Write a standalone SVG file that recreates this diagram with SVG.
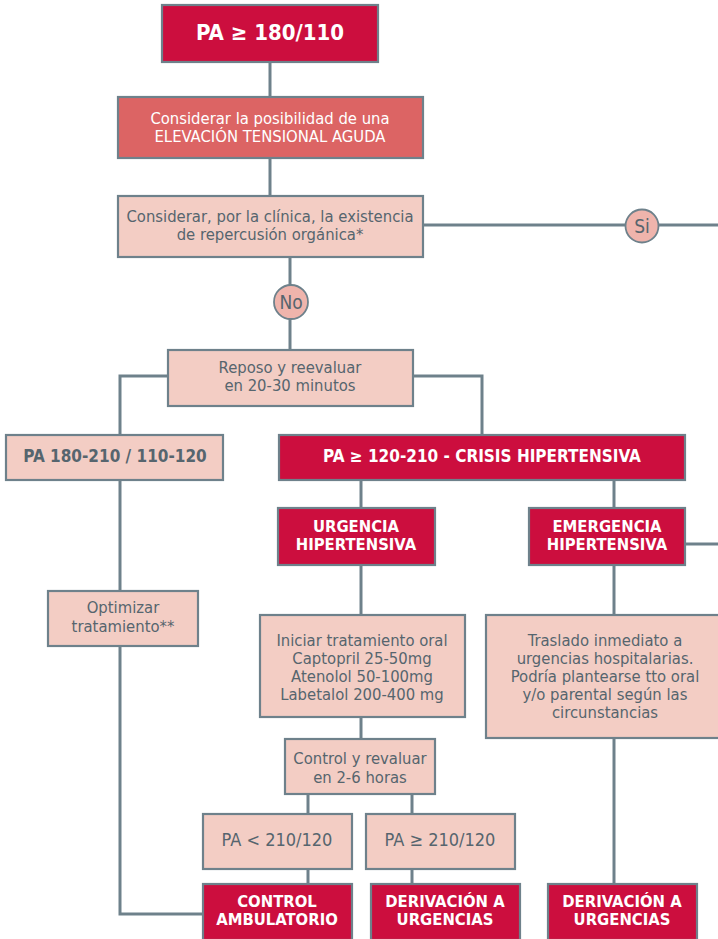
<svg xmlns="http://www.w3.org/2000/svg" width="718" height="939" viewBox="0 0 718 939">
<style>
.red{fill:#CC0E3E;stroke:#6E818B;stroke-width:2.2}
.mid{fill:#DC6464;stroke:#6E818B;stroke-width:2.2}
.lt{fill:#F3CDC4;stroke:#6E818B;stroke-width:2.2}
.cir{fill:#EFB4AC;stroke:#6E818B;stroke-width:1.8}
.ln{fill:none;stroke:#6E818B;stroke-width:3}
text{font-family:"Liberation Sans Narrow","DejaVu Sans Condensed",Roboto,sans-serif;text-anchor:middle;font-size:16.5px}
.w{fill:#FFFFFF}
.wb{fill:#FFFFFF;font-weight:bold}
.g{fill:#56656E}
.gb{fill:#56656E;font-weight:bold}
</style>
<g id="connectors">
<path class="ln" d="M270 62V97"/>
<path class="ln" d="M270 158V196"/>
<path class="ln" d="M423 225H718"/>
<path class="ln" d="M290 257V350"/>
<path class="ln" d="M168 376H120V435"/>
<path class="ln" d="M413 376H482V435"/>
<path class="ln" d="M120 480V591"/>
<path class="ln" d="M120 646V914H203"/>
<path class="ln" d="M361 480V508"/>
<path class="ln" d="M614 480V508"/>
<path class="ln" d="M685 544H718"/>
<path class="ln" d="M361 565V615"/>
<path class="ln" d="M614 565V615"/>
<path class="ln" d="M361 717V739"/>
<path class="ln" d="M308 794V814"/>
<path class="ln" d="M412 794V814"/>
<path class="ln" d="M308 869V884"/>
<path class="ln" d="M412 869V884"/>
<path class="ln" d="M614 738V884"/>
</g>
<g id="n1"><rect class="red" x="162" y="5" width="216" height="57"/><text class="wb" x="270" y="40" style="font-size:22px">PA ≥ 180/110</text></g>
<g id="n2"><rect class="mid" x="118" y="97" width="305" height="61"/><text class="w" x="270" y="124">Considerar la posibilidad de una</text><text class="w" x="270" y="142">ELEVACIÓN TENSIONAL AGUDA</text></g>
<g id="n3"><rect class="lt" x="118" y="196" width="305" height="61"/><text class="g" x="270" y="222">Considerar, por la clínica, la existencia</text><text class="g" x="270" y="240">de repercusión orgánica*</text></g>
<g id="si"><circle class="cir" cx="642" cy="226" r="16.5"/><text class="g" x="642" y="233" style="font-size:19px">Si</text></g>
<g id="no"><circle class="cir" cx="291" cy="302" r="17"/><text class="g" x="291" y="309" style="font-size:19px">No</text></g>
<g id="n4"><rect class="lt" x="168" y="350" width="245" height="56"/><text class="g" x="290" y="373">Reposo y reevaluar</text><text class="g" x="290" y="391">en 20-30 minutos</text></g>
<g id="n5"><rect class="lt" x="6" y="435" width="217" height="45"/><text class="gb" x="115" y="462" style="font-size:17px">PA 180-210 / 110-120</text></g>
<g id="n6"><rect class="red" x="279" y="435" width="406" height="45"/><text class="wb" x="482" y="462" style="font-size:17px">PA ≥ 120-210 - CRISIS HIPERTENSIVA</text></g>
<g id="n7"><rect class="red" x="278" y="508" width="157" height="57"/><text class="wb" x="356" y="532">URGENCIA</text><text class="wb" x="356" y="550">HIPERTENSIVA</text></g>
<g id="n8"><rect class="red" x="529" y="508" width="156" height="57"/><text class="wb" x="607" y="532">EMERGENCIA</text><text class="wb" x="607" y="550">HIPERTENSIVA</text></g>
<g id="n9"><rect class="lt" x="48" y="591" width="150" height="55"/><text class="g" x="123" y="613">Optimizar</text><text class="g" x="123" y="632">tratamiento**</text></g>
<g id="n10"><rect class="lt" x="260" y="615" width="205" height="102"/><text class="g" x="362" y="646">Iniciar tratamiento oral</text><text class="g" x="362" y="664">Captopril 25-50mg</text><text class="g" x="362" y="682">Atenolol 50-100mg</text><text class="g" x="362" y="700">Labetalol 200-400 mg</text></g>
<g id="n11"><rect class="lt" x="486" y="615" width="240" height="123"/><text class="g" x="605" y="646">Traslado inmediato a</text><text class="g" x="605" y="664">urgencias hospitalarias.</text><text class="g" x="605" y="682">Podría plantearse tto oral</text><text class="g" x="605" y="700">y/o parental según las</text><text class="g" x="605" y="718">circunstancias</text></g>
<g id="n12"><rect class="lt" x="285" y="739" width="150" height="55"/><text class="g" x="360" y="764">Control y revaluar</text><text class="g" x="360" y="783">en 2-6 horas</text></g>
<g id="n13"><rect class="lt" x="203" y="814" width="149" height="55"/><text class="g" x="277" y="846" style="font-size:18px">PA &lt; 210/120</text></g>
<g id="n14"><rect class="lt" x="366" y="814" width="149" height="55"/><text class="g" x="440" y="846" style="font-size:18px">PA ≥ 210/120</text></g>
<g id="n15"><rect class="red" x="203" y="884" width="149" height="56"/><text class="wb" x="277" y="907">CONTROL</text><text class="wb" x="277" y="925">AMBULATORIO</text></g>
<g id="n16"><rect class="red" x="371" y="884" width="149" height="56"/><text class="wb" x="445" y="907">DERIVACIÓN A</text><text class="wb" x="445" y="925">URGENCIAS</text></g>
<g id="n17"><rect class="red" x="548" y="884" width="149" height="56"/><text class="wb" x="622" y="907">DERIVACIÓN A</text><text class="wb" x="622" y="925">URGENCIAS</text></g>
</svg>
